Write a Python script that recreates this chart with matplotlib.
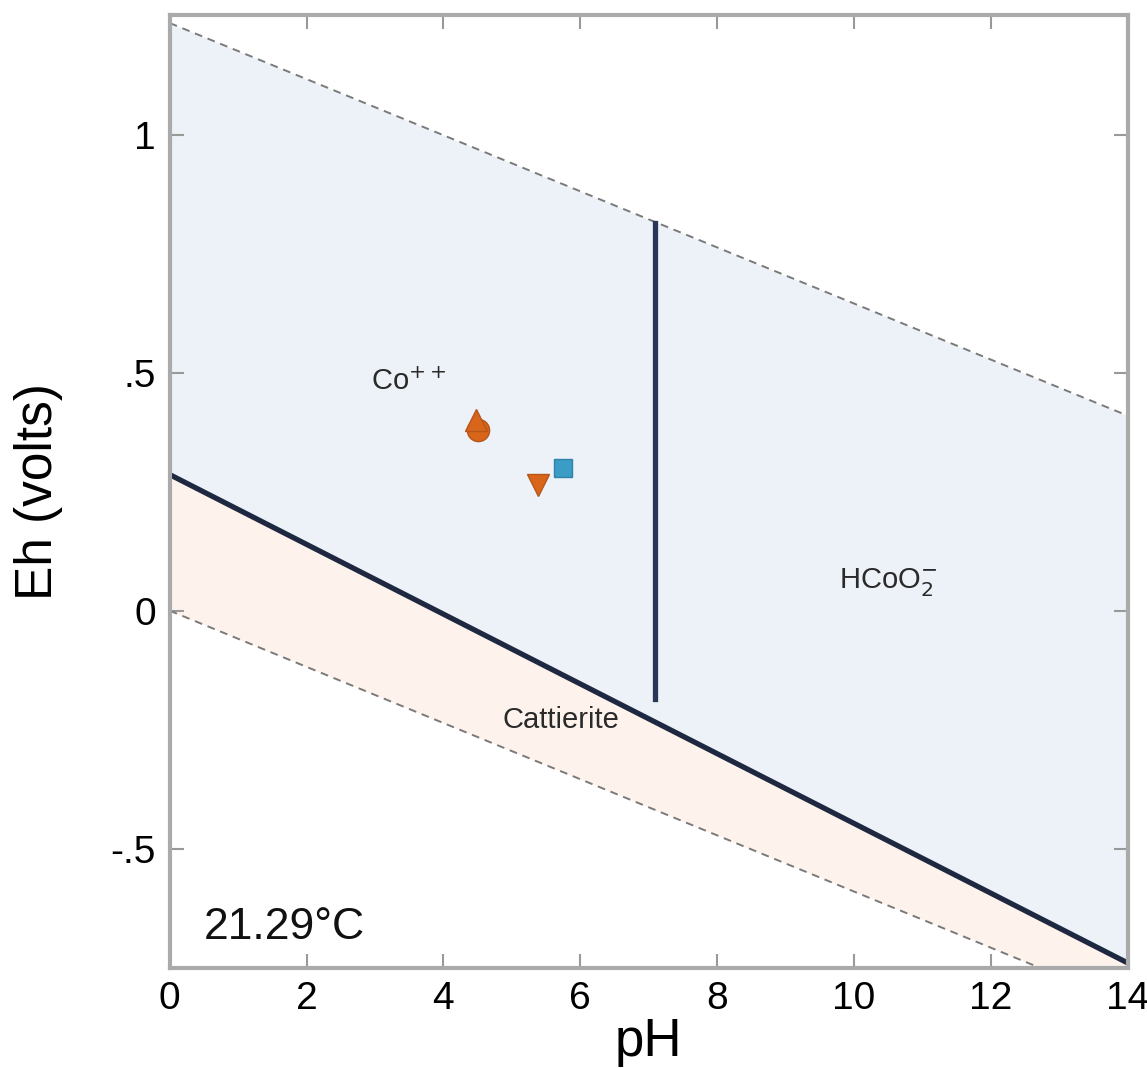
import numpy as np
import matplotlib.pyplot as plt

plt.rcParams['font.family'] = ['Liberation Sans', 'DejaVu Sans']

# --- data ---
ph_ends = [0, 14]
eh_o2 = [1.235, 0.41]          # upper water limit (dashed)
eh_h2 = [0.0, -0.826]          # lower water limit (dashed)
eh_boundary = [0.286, -0.74]   # Co++ / HCoO2- vs Cattierite
ph_vertical = [7.1, 7.1]       # Co++ / HCoO2- boundary
eh_vertical = [-0.185, 0.815]

# sample points
pts_ph = [4.5, 4.47, 5.38]
pts_eh = [0.38, 0.40, 0.265]
pts_mark = ['o', '^', 'v']
sq_ph = [5.75]
sq_eh = [0.30]

labels = ['Co$^{++}$', 'HCoO$_2^{-}$', 'Cattierite']
label_ph = [3.5, 10.5, 5.72]
label_eh = [0.48, 0.06, -0.23]

xticks = [0, 2, 4, 6, 8, 10, 12, 14]
yticks = [-0.5, 0, 0.5, 1]
yticklabels = ['-.5', '0', '.5', '1']

# --- figure ---
fig = plt.figure(figsize=(11.47, 10.68), dpi=100)
ax = fig.add_axes([0.148, 0.094, 0.835, 0.892])

ph = np.array(ph_ends)
ax.fill_between(ph, eh_boundary, eh_o2, color='#edf2f8', lw=0)
ax.fill_between(ph, eh_h2, eh_boundary, color='#fdf3ec', lw=0)

ax.plot(ph, eh_o2, '--', color='#7a7a7a', lw=1.4, dashes=(4, 3))
ax.plot(ph, eh_h2, '--', color='#7a7a7a', lw=1.4, dashes=(4, 3))
ax.plot(ph, eh_boundary, '-', color='#1e2840', lw=3.8)
ax.plot(ph_vertical, eh_vertical, '-', color='#2a3656', lw=3.8)

for x, y, m in zip(pts_ph, pts_eh, pts_mark):
    ax.plot(x, y, marker=m, ms=16, color='#d8651a', mec='#b8561a', ls='none')
ax.plot(sq_ph, sq_eh, 's', ms=13, color='#3b9cc6', mec='#2f82a8', ls='none')

for t, x, y in zip(labels, label_ph, label_eh):
    ax.text(x, y, t, fontsize=21, color='#2a2a2a', ha='center', va='center')

ax.text(0.5, -0.665, '21.29°C', fontsize=32, color='#111111', ha='left', va='center')

ax.set_xlim(0, 14)
ax.set_ylim(-0.75, 1.252)
ax.set_xticks(xticks)
ax.set_yticks(yticks)
ax.set_yticklabels(yticklabels)
ax.tick_params(direction='in', length=10, width=1.5, color='#999999',
               top=True, right=True, labelsize=28, pad=10)
for lab in ax.get_xticklabels() + ax.get_yticklabels():
    lab.set_family(['Liberation Sans Narrow', 'Liberation Sans'])
for s in ax.spines.values():
    s.set_color('#aaaaaa')
    s.set_linewidth(3)

ax.set_xlabel('pH', fontsize=38, labelpad=0)
ax.set_ylabel('Eh (volts)', fontsize=37, labelpad=34)

fig.savefig('out.png', dpi=100)
